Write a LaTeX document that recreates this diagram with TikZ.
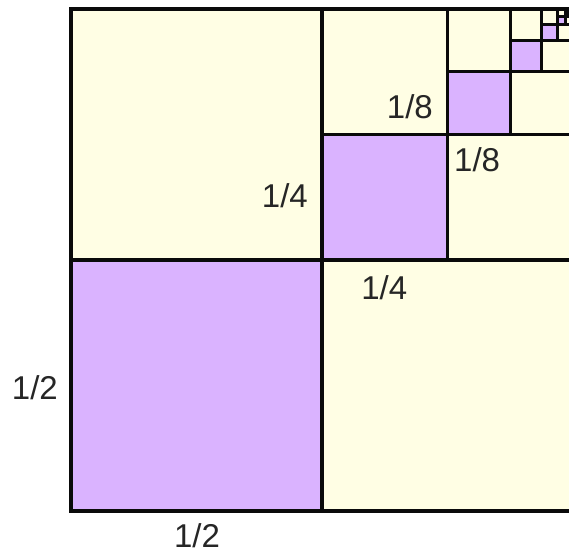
\documentclass[tikz,border=0pt]{standalone}
\usepackage{fontspec}
\setmainfont{Liberation Sans}
\usetikzlibrary{positioning}
\definecolor{cellyellow}{RGB}{255, 254, 228}
\definecolor{cellpurple}{RGB}{218, 179, 255}
\definecolor{gridline}{RGB}{10, 10, 10}

\begin{document}
\begin{tikzpicture}[x=251pt, y=251pt, line width=1.6pt,
    frac/.style={color=black!85, font=\fontsize{16.5}{20}\selectfont, inner sep=0pt}]
    \useasboundingbox (-0.1414,-0.0837) rectangle (0.9920,1.0179);

    % Whole square
    \fill[cellyellow] (0,0) rectangle (1,1);

    % Halving steps: purple corners first
    \foreach \n in {0,...,9}{
        \pgfmathsetmacro{\s}{2^(-\n)}
        \pgfmathsetmacro{\o}{1-\s}
        \fill[cellpurple] (\o,\o) rectangle ++(\s/2,\s/2);
    }
    % then the cross lines
    \foreach \n in {0,...,9}{
        \pgfmathsetmacro{\s}{2^(-\n)}
        \pgfmathsetmacro{\o}{1-\s}
        \draw[gridline] (\o+\s/2,\o) -- ++(0,\s) (\o,\o+\s/2) -- ++(\s,0);
    }
    \draw[gridline] (0,0) rectangle (1,1);

    % Side labels
    \node (halfleft) at (-0.072, 0.245) [frac] {1/2};
    \node (halfbelow) at (0.251, -0.050) [frac] {1/2};
    \node (quarterleft) at (0.426, 0.629) [frac] {1/4};
    \node (quarterbelow) at (0.624, 0.444) [frac] {1/4};
    \node (eighthleft) at (0.675, 0.806) [frac] {1/8};
    \node (eighthbelow) at (0.809, 0.699) [frac] {1/8};
\end{tikzpicture}
\end{document}
